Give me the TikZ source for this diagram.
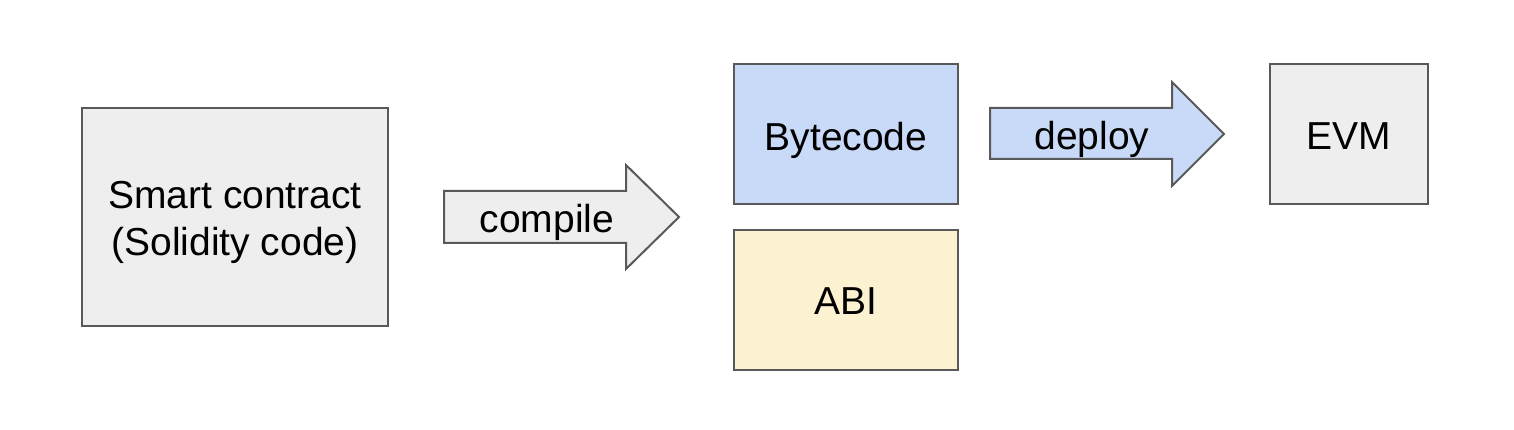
\documentclass[tikz,border=0pt]{standalone}
\usepackage{fontspec}
\setmainfont{Liberation Sans}
\definecolor{boxgrey}{HTML}{EEEEEE}
\definecolor{edge}{HTML}{595959}
\definecolor{boxblue}{HTML}{C9DAF8}
\definecolor{boxyellow}{HTML}{FCF1D0}
\begin{document}
\begin{tikzpicture}[x=1pt,y=-1pt,
  box/.style={draw=edge,line width=2pt},
  lbl/.style={font=\fontsize{39}{47}\selectfont,align=center,inner sep=0pt}]
\useasboundingbox (0,0) rectangle (1514,430);
% boxes
\draw[box,fill=boxgrey] (82,108) rectangle (388,326);
\node[lbl] (sc) at (235,222) {Smart contract\\(Solidity code)};
\draw[box,fill=boxblue] (734,64) rectangle (958,204);
\node[lbl] (bc) at (846,140) {Bytecode};
\draw[box,fill=boxyellow] (734,230) rectangle (958,370);
\node[lbl] (abi) at (846,301) {ABI};
\draw[box,fill=boxgrey] (1270,64) rectangle (1428,204);
\node[lbl] (evm) at (1349,136) {EVM};
% block arrows
\draw[box,fill=boxgrey,line join=miter] (444,191) -- (626,191) -- (626,165) -- (679,217) -- (626,269) -- (626,243) -- (444,243) -- cycle;
\node[lbl] (compile) at (547,222) {compile};
\draw[box,fill=boxblue,line join=miter] (990,108) -- (1172,108) -- (1172,82) -- (1224,134) -- (1172,186) -- (1172,159) -- (990,159) -- cycle;
\node[lbl] (deploy) at (1092,139) {deploy};
\end{tikzpicture}
\end{document}
